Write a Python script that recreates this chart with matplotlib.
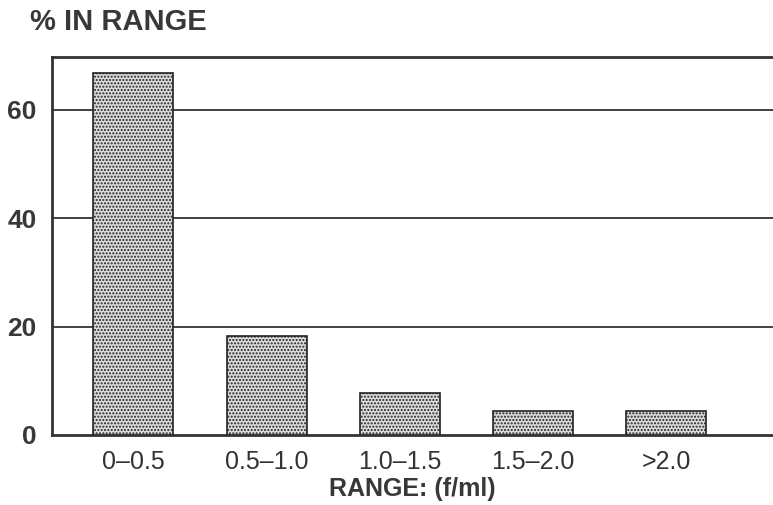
import numpy as np
import matplotlib.pyplot as plt

categories = ['0\u20130.5', '0.5\u20131.0', '1.0\u20131.5', '1.5\u20132.0', '>2.0']
percent = [66.7, 18.2, 7.7, 4.4, 4.4]
yticks = [0, 20, 40, 60]

plt.rcParams['font.family'] = ['Liberation Sans', 'DejaVu Sans']
plt.rcParams['hatch.color'] = '#444444'
plt.rcParams['hatch.linewidth'] = 1.0

fig = plt.figure(figsize=(7.73, 5.05), dpi=100)
ax = fig.add_axes([52/773, 1 - 435/505, 1 - 52/773, (435 - 57)/505])

x = np.arange(len(categories))
ax.bar(x, percent, width=0.6, color='#dcdcdc', edgecolor='#222222',
       linewidth=1.2, hatch='.....', zorder=3)

ax.set_xlim(-0.61, 4.8)
ax.set_ylim(0, 69.7)
ax.set_yticks(yticks)
ax.set_yticklabels([str(t) for t in yticks], fontsize=19, fontweight='bold', color='#383838')
ax.set_xticks(x)
ax.set_xticklabels(categories, fontsize=18, color='#333333')
ax.tick_params(length=0)
ax.tick_params(axis='x', pad=11)
ax.tick_params(axis='y', pad=11)

for t in yticks[1:]:
    ax.axhline(t, color='#222222', linewidth=1.2, zorder=1)

ax.spines['right'].set_visible(False)
for s in ['left', 'bottom', 'top']:
    ax.spines[s].set_linewidth(2.0)
    ax.spines[s].set_color('#333333')

ax.set_xlabel('RANGE: (f/ml)', fontsize=18, fontweight='bold', color='#383838', labelpad=2)
fig.text(30/773, 1 - 22/505, '% IN RANGE', fontsize=21, fontweight='bold',
         color='#383838', va='center', ha='left')

fig.savefig('out.png', dpi=100)
